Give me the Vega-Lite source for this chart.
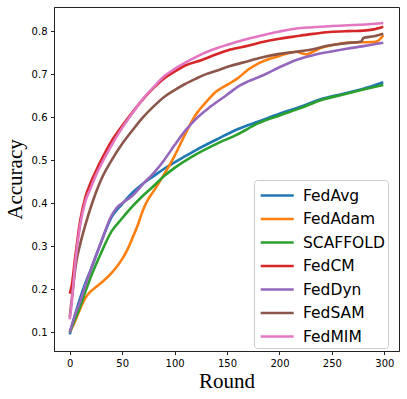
{
  "$schema": "https://vega.github.io/schema/vega-lite/v6.json",
  "width": 345,
  "height": 344,
  "autosize": {"type": "none"},
  "padding": {"left": 54, "top": 7, "right": 8, "bottom": 48},
  "background": "white",
  "config": {
    "view": {"stroke": "#222", "strokeWidth": 1},
    "axis": {"grid": false, "domainColor": "#222", "tickColor": "#222", "labelColor": "black", "labelFont": "DejaVu Sans", "labelFontSize": 10, "tickSize": 3.5, "labelPadding": 3.5, "titleFont": "Liberation Serif", "titleFontSize": 21, "titleFontWeight": "normal", "titleColor": "black"}
  },
  "data": {"values": [
    {"r":0,"m":"FedAvg","a":0.095},{"r":5,"m":"FedAvg","a":0.14},{"r":10,"m":"FedAvg","a":0.18},{"r":15,"m":"FedAvg","a":0.215},{"r":20,"m":"FedAvg","a":0.245},{"r":30,"m":"FedAvg","a":0.31},{"r":40,"m":"FedAvg","a":0.368},{"r":50,"m":"FedAvg","a":0.398},{"r":60,"m":"FedAvg","a":0.425},{"r":70,"m":"FedAvg","a":0.446},{"r":80,"m":"FedAvg","a":0.463},{"r":90,"m":"FedAvg","a":0.48},{"r":100,"m":"FedAvg","a":0.495},{"r":120,"m":"FedAvg","a":0.523},{"r":140,"m":"FedAvg","a":0.548},{"r":160,"m":"FedAvg","a":0.572},{"r":180,"m":"FedAvg","a":0.59},{"r":200,"m":"FedAvg","a":0.608},{"r":220,"m":"FedAvg","a":0.624},{"r":240,"m":"FedAvg","a":0.642},{"r":260,"m":"FedAvg","a":0.654},{"r":280,"m":"FedAvg","a":0.666},{"r":299,"m":"FedAvg","a":0.681},

    {"r":0,"m":"FedAdam","a":0.1},{"r":5,"m":"FedAdam","a":0.125},{"r":10,"m":"FedAdam","a":0.155},{"r":15,"m":"FedAdam","a":0.18},{"r":20,"m":"FedAdam","a":0.195},{"r":25,"m":"FedAdam","a":0.205},{"r":30,"m":"FedAdam","a":0.215},{"r":40,"m":"FedAdam","a":0.238},{"r":50,"m":"FedAdam","a":0.27},{"r":55,"m":"FedAdam","a":0.292},{"r":60,"m":"FedAdam","a":0.32},{"r":65,"m":"FedAdam","a":0.35},{"r":70,"m":"FedAdam","a":0.385},{"r":75,"m":"FedAdam","a":0.41},{"r":80,"m":"FedAdam","a":0.428},{"r":90,"m":"FedAdam","a":0.467},{"r":100,"m":"FedAdam","a":0.51},{"r":110,"m":"FedAdam","a":0.56},{"r":120,"m":"FedAdam","a":0.605},{"r":130,"m":"FedAdam","a":0.635},{"r":140,"m":"FedAdam","a":0.66},{"r":150,"m":"FedAdam","a":0.675},{"r":160,"m":"FedAdam","a":0.69},{"r":170,"m":"FedAdam","a":0.71},{"r":180,"m":"FedAdam","a":0.725},{"r":190,"m":"FedAdam","a":0.735},{"r":200,"m":"FedAdam","a":0.742},{"r":210,"m":"FedAdam","a":0.75},{"r":216,"m":"FedAdam","a":0.752},{"r":222,"m":"FedAdam","a":0.748},{"r":226,"m":"FedAdam","a":0.746},{"r":232,"m":"FedAdam","a":0.752},{"r":240,"m":"FedAdam","a":0.761},{"r":250,"m":"FedAdam","a":0.767},{"r":264,"m":"FedAdam","a":0.773},{"r":280,"m":"FedAdam","a":0.774},{"r":292,"m":"FedAdam","a":0.775},{"r":299,"m":"FedAdam","a":0.79},

    {"r":0,"m":"SCAFFOLD","a":0.1},{"r":5,"m":"SCAFFOLD","a":0.13},{"r":10,"m":"SCAFFOLD","a":0.16},{"r":15,"m":"SCAFFOLD","a":0.195},{"r":20,"m":"SCAFFOLD","a":0.228},{"r":30,"m":"SCAFFOLD","a":0.285},{"r":40,"m":"SCAFFOLD","a":0.335},{"r":50,"m":"SCAFFOLD","a":0.365},{"r":60,"m":"SCAFFOLD","a":0.393},{"r":70,"m":"SCAFFOLD","a":0.418},{"r":80,"m":"SCAFFOLD","a":0.44},{"r":90,"m":"SCAFFOLD","a":0.463},{"r":100,"m":"SCAFFOLD","a":0.482},{"r":120,"m":"SCAFFOLD","a":0.513},{"r":140,"m":"SCAFFOLD","a":0.538},{"r":160,"m":"SCAFFOLD","a":0.56},{"r":180,"m":"SCAFFOLD","a":0.586},{"r":200,"m":"SCAFFOLD","a":0.604},{"r":220,"m":"SCAFFOLD","a":0.621},{"r":240,"m":"SCAFFOLD","a":0.64},{"r":260,"m":"SCAFFOLD","a":0.652},{"r":280,"m":"SCAFFOLD","a":0.664},{"r":299,"m":"SCAFFOLD","a":0.675},

    {"r":0,"m":"FedCM","a":0.19},{"r":2,"m":"FedCM","a":0.21},{"r":5,"m":"FedCM","a":0.27},{"r":10,"m":"FedCM","a":0.36},{"r":15,"m":"FedCM","a":0.415},{"r":20,"m":"FedCM","a":0.448},{"r":25,"m":"FedCM","a":0.475},{"r":30,"m":"FedCM","a":0.5},{"r":40,"m":"FedCM","a":0.545},{"r":50,"m":"FedCM","a":0.58},{"r":60,"m":"FedCM","a":0.612},{"r":70,"m":"FedCM","a":0.642},{"r":80,"m":"FedCM","a":0.668},{"r":90,"m":"FedCM","a":0.69},{"r":100,"m":"FedCM","a":0.706},{"r":110,"m":"FedCM","a":0.72},{"r":126,"m":"FedCM","a":0.733},{"r":140,"m":"FedCM","a":0.746},{"r":153,"m":"FedCM","a":0.757},{"r":170,"m":"FedCM","a":0.766},{"r":185,"m":"FedCM","a":0.775},{"r":200,"m":"FedCM","a":0.782},{"r":216,"m":"FedCM","a":0.788},{"r":230,"m":"FedCM","a":0.793},{"r":248,"m":"FedCM","a":0.798},{"r":265,"m":"FedCM","a":0.8},{"r":280,"m":"FedCM","a":0.801},{"r":290,"m":"FedCM","a":0.804},{"r":299,"m":"FedCM","a":0.81},

    {"r":0,"m":"FedDyn","a":0.1},{"r":5,"m":"FedDyn","a":0.14},{"r":10,"m":"FedDyn","a":0.172},{"r":15,"m":"FedDyn","a":0.21},{"r":20,"m":"FedDyn","a":0.245},{"r":30,"m":"FedDyn","a":0.31},{"r":40,"m":"FedDyn","a":0.372},{"r":45,"m":"FedDyn","a":0.39},{"r":50,"m":"FedDyn","a":0.4},{"r":60,"m":"FedDyn","a":0.418},{"r":70,"m":"FedDyn","a":0.445},{"r":80,"m":"FedDyn","a":0.47},{"r":90,"m":"FedDyn","a":0.5},{"r":100,"m":"FedDyn","a":0.535},{"r":110,"m":"FedDyn","a":0.568},{"r":120,"m":"FedDyn","a":0.595},{"r":134,"m":"FedDyn","a":0.624},{"r":150,"m":"FedDyn","a":0.652},{"r":162,"m":"FedDyn","a":0.673},{"r":170,"m":"FedDyn","a":0.683},{"r":185,"m":"FedDyn","a":0.698},{"r":200,"m":"FedDyn","a":0.716},{"r":216,"m":"FedDyn","a":0.733},{"r":232,"m":"FedDyn","a":0.744},{"r":248,"m":"FedDyn","a":0.752},{"r":264,"m":"FedDyn","a":0.759},{"r":280,"m":"FedDyn","a":0.765},{"r":299,"m":"FedDyn","a":0.773},

    {"r":0,"m":"FedSAM","a":0.135},{"r":3,"m":"FedSAM","a":0.2},{"r":6,"m":"FedSAM","a":0.26},{"r":10,"m":"FedSAM","a":0.305},{"r":15,"m":"FedSAM","a":0.35},{"r":20,"m":"FedSAM","a":0.39},{"r":25,"m":"FedSAM","a":0.425},{"r":30,"m":"FedSAM","a":0.455},{"r":40,"m":"FedSAM","a":0.5},{"r":50,"m":"FedSAM","a":0.538},{"r":60,"m":"FedSAM","a":0.57},{"r":70,"m":"FedSAM","a":0.6},{"r":80,"m":"FedSAM","a":0.625},{"r":90,"m":"FedSAM","a":0.647},{"r":100,"m":"FedSAM","a":0.663},{"r":110,"m":"FedSAM","a":0.677},{"r":120,"m":"FedSAM","a":0.689},{"r":130,"m":"FedSAM","a":0.7},{"r":140,"m":"FedSAM","a":0.708},{"r":153,"m":"FedSAM","a":0.719},{"r":170,"m":"FedSAM","a":0.73},{"r":185,"m":"FedSAM","a":0.74},{"r":200,"m":"FedSAM","a":0.747},{"r":216,"m":"FedSAM","a":0.752},{"r":232,"m":"FedSAM","a":0.758},{"r":248,"m":"FedSAM","a":0.767},{"r":264,"m":"FedSAM","a":0.772},{"r":278,"m":"FedSAM","a":0.776},{"r":280,"m":"FedSAM","a":0.784},{"r":290,"m":"FedSAM","a":0.788},{"r":299,"m":"FedSAM","a":0.794},

    {"r":0,"m":"FedMIM","a":0.13},{"r":2,"m":"FedMIM","a":0.17},{"r":5,"m":"FedMIM","a":0.255},{"r":10,"m":"FedMIM","a":0.35},{"r":15,"m":"FedMIM","a":0.405},{"r":20,"m":"FedMIM","a":0.435},{"r":25,"m":"FedMIM","a":0.465},{"r":30,"m":"FedMIM","a":0.49},{"r":40,"m":"FedMIM","a":0.535},{"r":50,"m":"FedMIM","a":0.575},{"r":60,"m":"FedMIM","a":0.61},{"r":70,"m":"FedMIM","a":0.643},{"r":80,"m":"FedMIM","a":0.67},{"r":90,"m":"FedMIM","a":0.695},{"r":100,"m":"FedMIM","a":0.712},{"r":115,"m":"FedMIM","a":0.733},{"r":130,"m":"FedMIM","a":0.751},{"r":140,"m":"FedMIM","a":0.76},{"r":153,"m":"FedMIM","a":0.77},{"r":170,"m":"FedMIM","a":0.782},{"r":185,"m":"FedMIM","a":0.791},{"r":200,"m":"FedMIM","a":0.799},{"r":216,"m":"FedMIM","a":0.806},{"r":232,"m":"FedMIM","a":0.809},{"r":250,"m":"FedMIM","a":0.812},{"r":270,"m":"FedMIM","a":0.814},{"r":285,"m":"FedMIM","a":0.816},{"r":299,"m":"FedMIM","a":0.819}
  ]},
  "mark": {"type": "line", "interpolate": "monotone", "strokeWidth": 2.6},
  "encoding": {
    "x": {"field": "r", "type": "quantitative", "scale": {"domain": [-15, 314], "nice": false, "zero": false},
      "axis": {"values": [0, 50, 100, 150, 200, 250, 300], "title": "Round", "titlePadding": 2}},
    "y": {"field": "a", "type": "quantitative", "scale": {"domain": [0.0565, 0.856], "nice": false, "zero": false},
      "axis": {"values": [0.1, 0.2, 0.3, 0.4, 0.5, 0.6, 0.7, 0.8], "format": ".1f", "title": "Accuracy", "titlePadding": 6}},
    "color": {"field": "m", "type": "nominal",
      "scale": {"domain": ["FedAvg", "FedAdam", "SCAFFOLD", "FedCM", "FedDyn", "FedSAM", "FedMIM"],
        "range": ["#1f77b4", "#ff7f0e", "#2ca02c", "#d62728", "#9467bd", "#8c564b", "#e377c2"]},
      "legend": {"title": null, "orient": "none", "legendX": 200, "legendY": 173, "symbolType": "M-0.8,0H2.2", "symbolSize": 484, "symbolStrokeWidth": 2.6, "symbolFillColor": "transparent", "labelFont": "DejaVu Sans", "labelFontSize": 15.5, "labelColor": "black", "labelOffset": 21, "rowPadding": 2.5, "padding": 3, "fillColor": "white", "strokeColor": "#ccc", "cornerRadius": 3}
    }
  }
}
